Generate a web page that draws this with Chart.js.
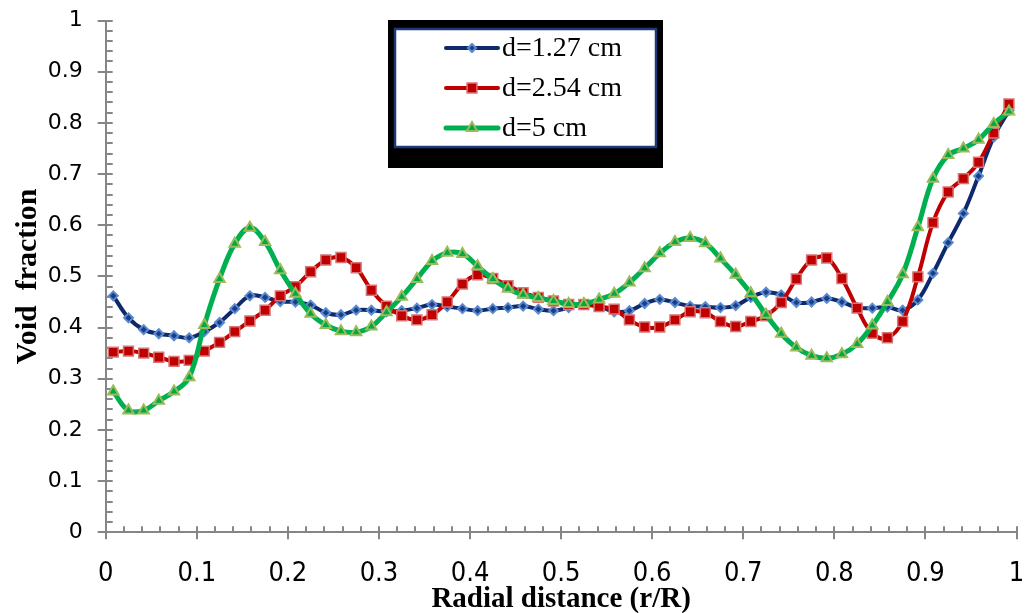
<!DOCTYPE html>
<html>
<head>
<meta charset="utf-8">
<script src="https://cdn.jsdelivr.net/npm/chart.js@4.4.1/dist/chart.umd.min.js"></script>
<style>
html,body{margin:0;padding:0;background:#ffffff;}
#wrap{width:1025px;height:613px;position:relative;overflow:hidden;}
canvas{display:block;}
</style>
</head>
<body>
<div id="wrap"><canvas id="c" width="1025" height="613"></canvas></div>
<script>
// ---- data ----
const radialPositions = [0.0083,0.025,0.0417,0.0583,0.075,0.0917,0.1083,0.125,0.1417,0.1583,
  0.175,0.1917,0.2083,0.225,0.2417,0.2583,0.275,0.2917,0.3083,0.325,
  0.3417,0.3583,0.375,0.3917,0.4083,0.425,0.4417,0.4583,0.475,0.4917,
  0.5083,0.525,0.5417,0.5583,0.575,0.5917,0.6083,0.625,0.6417,0.6583,
  0.675,0.6917,0.7083,0.725,0.7417,0.7583,0.775,0.7917,0.8083,0.825,
  0.8417,0.8583,0.875,0.8917,0.9083,0.925,0.9417,0.9583,0.975,0.9917];

const voidD127 = [0.462,0.419,0.396,0.388,0.384,0.380,0.392,0.410,0.437,0.462,
  0.459,0.451,0.450,0.444,0.429,0.425,0.434,0.434,0.431,0.433,
  0.438,0.445,0.441,0.437,0.433,0.437,0.439,0.442,0.436,0.433,
  0.439,0.445,0.442,0.431,0.433,0.447,0.455,0.449,0.442,0.441,
  0.439,0.443,0.459,0.469,0.464,0.449,0.450,0.457,0.450,0.439,
  0.438,0.440,0.434,0.454,0.506,0.566,0.623,0.696,0.772,0.824];

const voidD254 = [0.352,0.354,0.350,0.342,0.334,0.336,0.354,0.371,0.392,0.413,
  0.434,0.462,0.480,0.509,0.532,0.537,0.517,0.473,0.442,0.423,
  0.415,0.425,0.450,0.485,0.503,0.496,0.482,0.468,0.459,0.452,
  0.445,0.445,0.441,0.436,0.415,0.401,0.401,0.415,0.431,0.429,
  0.412,0.402,0.412,0.423,0.449,0.495,0.532,0.536,0.496,0.438,
  0.389,0.380,0.412,0.499,0.605,0.665,0.691,0.723,0.780,0.837];

const voidD5 = [0.275,0.238,0.238,0.257,0.275,0.303,0.405,0.495,0.564,0.595,
  0.567,0.512,0.466,0.427,0.405,0.393,0.391,0.402,0.430,0.460,
  0.495,0.530,0.546,0.544,0.520,0.495,0.476,0.464,0.458,0.452,
  0.446,0.446,0.455,0.466,0.488,0.516,0.545,0.567,0.575,0.565,
  0.535,0.503,0.467,0.425,0.388,0.361,0.345,0.340,0.348,0.368,
  0.404,0.450,0.504,0.596,0.691,0.737,0.750,0.767,0.798,0.822];

const seriesLabels = ['d=1.27 cm', 'd=2.54 cm', 'd=5 cm'];
const xTickLabels = ['0','0.1','0.2','0.3','0.4','0.5','0.6','0.7','0.8','0.9','1'];
const yTickLabels = ['0','0.1','0.2','0.3','0.4','0.5','0.6','0.7','0.8','0.9','1'];
const xTitle = 'Radial distance (r/R)';
const yTitle = 'Void  fraction';

function pts(ys) { return ys.map((v, i) => ({x: radialPositions[i], y: v})); }

const AXIS_GRAY = '#868686';

const axisTicksPlugin = {
  id: 'axisTicks',
  beforeDatasetsDraw(chart) {
    const {ctx, scales: {x, y}, chartArea: a} = chart;
    ctx.save();
    ctx.strokeStyle = AXIS_GRAY;
    ctx.lineWidth = 2;
    ctx.beginPath();
    for (let k = 0; k <= 50; k++) {
      const major = k % 5 === 0;
      const px = Math.round(x.getPixelForValue(k / 50));
      ctx.moveTo(px, a.bottom - 6);
      ctx.lineTo(px, major ? a.bottom + 7 : a.bottom);
      const py = Math.round(y.getPixelForValue(k / 50));
      ctx.moveTo(major ? a.left - 8 : a.left, py);
      ctx.lineTo(a.left + 7, py);
    }
    ctx.stroke();
    ctx.restore();
  }
};

const boxLegendPlugin = {
  id: 'boxLegend',
  afterDraw(chart) {
    const ctx = chart.ctx;
    ctx.save();
    ctx.fillStyle = '#000000';
    ctx.fillRect(388, 20, 275, 148);
    ctx.fillStyle = '#ffffff';
    ctx.fillRect(394, 28, 263, 120);
    ctx.strokeStyle = '#1F3A7A';
    ctx.lineWidth = 2.5;
    ctx.strokeRect(395, 29, 261, 118);
    const rows = [48, 88, 128];
    chart.data.datasets.forEach((ds, i) => {
      const yy = rows[i];
      ctx.strokeStyle = ds.borderColor;
      ctx.lineWidth = ds.borderWidth;
      ctx.lineCap = 'round';
      ctx.beginPath();
      ctx.moveTo(446, yy);
      ctx.lineTo(498, yy);
      ctx.stroke();
      ctx.fillStyle = ds.pointBackgroundColor;
      ctx.strokeStyle = ds.pointBorderColor;
      ctx.lineWidth = ds.pointBorderWidth;
      Chart.helpers.drawPoint(ctx, {pointStyle: ds.pointStyle, radius: ds.legendRadius, rotation: 0, borderWidth: ds.pointBorderWidth}, 472, yy);
      ctx.fillStyle = '#000000';
      ctx.font = '28px "Liberation Serif", "Times New Roman", serif';
      ctx.textBaseline = 'middle';
      ctx.textAlign = 'left';
      ctx.fillText(ds.label, 502, yy + 1);
    });
    ctx.restore();
  }
};

new Chart(document.getElementById('c'), {
  type: 'line',
  data: {
    datasets: [
      {
        label: seriesLabels[0], data: pts(voidD127), order: 3,
        borderColor: '#0E2A6B', borderWidth: 4, tension: 0.4,
        pointStyle: 'rectRot', pointRadius: 4.5, legendRadius: 4,
        pointBackgroundColor: '#1B3F86', pointBorderColor: '#5B8BD0', pointBorderWidth: 2
      },
      {
        label: seriesLabels[1], data: pts(voidD254), order: 2,
        borderColor: '#C00000', borderWidth: 4, tension: 0.4,
        pointStyle: 'rect', pointRadius: 7, legendRadius: 7,
        pointBackgroundColor: '#C00000', pointBorderColor: '#D77474', pointBorderWidth: 1.5
      },
      {
        label: seriesLabels[2], data: pts(voidD5), order: 1,
        borderColor: '#00B050', borderWidth: 5, tension: 0.4,
        pointStyle: 'triangle', pointRadius: 6, legendRadius: 6,
        pointBackgroundColor: '#00A84A', pointBorderColor: '#9BBB59', pointBorderWidth: 2
      }
    ]
  },
  options: {
    responsive: false,
    animation: false,
    devicePixelRatio: 1,
    events: [],
    layout: {padding: {top: 20.5, right: 6.7, left: 0, bottom: 0}},
    plugins: {legend: {display: false}, tooltip: {enabled: false}},
    scales: {
      x: {
        type: 'linear', min: 0, max: 1,
        afterFit(s) { s.height = 80.7; s.paddingLeft = 0; s.paddingRight = 0; },
        border: {display: true, color: AXIS_GRAY, width: 2},
        grid: {display: true, drawOnChartArea: false, drawTicks: false},
        ticks: {
          stepSize: 0.1, autoSkip: false, maxRotation: 0, padding: 25, color: '#000000',
          font: {family: '"Liberation Sans Narrow", "DejaVu Sans Condensed", sans-serif', size: 27},
          callback: (v, i) => xTickLabels[i]
        },
        title: {
          display: true, text: xTitle, color: '#000000', padding: {top: 0, bottom: -4},
          font: {family: '"Liberation Serif", "Times New Roman", serif', size: 29, weight: 'bold'}
        }
      },
      y: {
        type: 'linear', min: 0, max: 1,
        afterFit(s) { s.width = 105.7; s.paddingTop = 0; s.paddingBottom = 0; },
        border: {display: true, color: AXIS_GRAY, width: 2},
        grid: {display: true, drawOnChartArea: false, drawTicks: false},
        ticks: {
          stepSize: 0.1, autoSkip: false, padding: 23, color: '#000000',
          font: {family: '"DejaVu Sans", sans-serif', size: 22},
          callback: (v, i) => yTickLabels[i]
        },
        title: {
          display: true, text: yTitle, color: '#000000', padding: {top: 10, bottom: 0},
          font: {family: '"Liberation Serif", "Times New Roman", serif', size: 30, weight: 'bold'}
        }
      }
    }
  },
  plugins: [axisTicksPlugin, boxLegendPlugin]
});
</script>
</body>
</html>
